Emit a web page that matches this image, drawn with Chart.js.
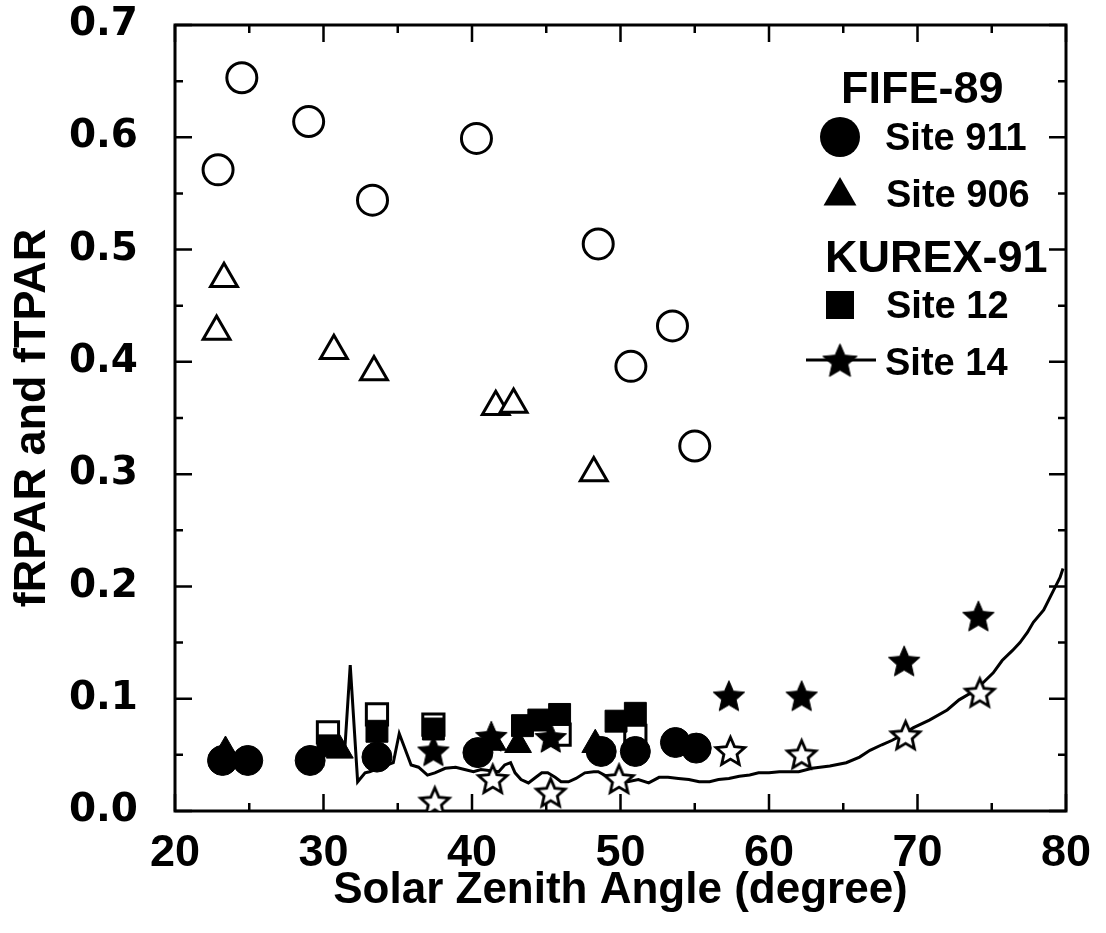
<!DOCTYPE html>
<html><head><meta charset="utf-8">
<script src="https://cdn.jsdelivr.net/npm/chart.js@4.4.1/dist/chart.umd.min.js"></script>
<style>html,body{margin:0;padding:0;background:#fff;}#wrap{width:1106px;height:933px;}</style>
</head><body><div id="wrap"><canvas id="c" width="1106" height="933"></canvas></div>
<script>
// ---- data ----
const xTickLabels = ['20','30','40','50','60','70','80'];
const yTickLabels = ['0.0','0.1','0.2','0.3','0.4','0.5','0.6','0.7'];

// FIFE-89 Site 911 (circles): open = fTPAR, filled = fRPAR
const site911_fTPAR = [[22.9,0.571],[24.5,0.653],[29.0,0.614],[33.3,0.544],[40.3,0.599],[48.5,0.505],[50.7,0.396],[53.5,0.432],[55.0,0.325]];
const site911_fRPAR = [[23.2,0.045],[24.9,0.045],[29.1,0.045],[33.6,0.048],[40.4,0.052],[48.7,0.053],[51.0,0.053],[53.7,0.061],[55.1,0.056]];
// FIFE-89 Site 906 (triangles)
const site906_fTPAR = [[22.8,0.427],[23.3,0.474],[30.7,0.410],[33.4,0.391],[41.6,0.360],[42.8,0.362],[48.2,0.301]];
const site906_fRPAR = [[23.4,0.053],[31.1,0.054],[41.4,0.061],[43.1,0.059],[48.3,0.059]];
// KUREX-91 Site 12 (squares)
const site12_fTPAR = [[30.3,0.070],[33.6,0.086],[37.4,0.077],[45.9,0.068],[51.0,0.067]];
const site12_fRPAR = [[30.3,0.058],[33.6,0.071],[37.4,0.073],[43.4,0.076],[44.5,0.081],[45.9,0.086],[49.7,0.080],[51.0,0.087]];
// KUREX-91 Site 14 (stars) and model curve
const site14_fTPAR = [[37.5,0.008],[41.4,0.028],[45.3,0.016],[49.9,0.028],[57.4,0.053],[62.2,0.050],[69.2,0.067],[74.2,0.105]];
const site14_fRPAR = [[37.4,0.053],[41.3,0.066],[45.3,0.065],[57.3,0.102],[62.2,0.102],[69.1,0.133],[74.1,0.173]];
const site14_model = [[31.4,0.048],[31.8,0.130],[32.3,0.026],[32.8,0.034],[33.1,0.035],[33.7,0.038],[34.3,0.041],[34.7,0.043],[35.1,0.069],[35.9,0.041],[36.4,0.039],[37.0,0.032],[37.5,0.034],[38.2,0.038],[38.9,0.039],[39.5,0.037],[40.1,0.035],[40.6,0.037],[41.8,0.035],[42.2,0.041],[42.6,0.043],[42.9,0.034],[43.3,0.028],[43.8,0.025],[44.3,0.030],[44.7,0.034],[45.1,0.034],[45.6,0.030],[46.0,0.026],[46.5,0.026],[47.0,0.029],[47.6,0.034],[48.2,0.035],[48.5,0.035],[49.2,0.030],[49.9,0.028],[50.5,0.026],[51.2,0.028],[51.9,0.025],[52.6,0.030],[53.2,0.030],[53.9,0.029],[54.6,0.028],[55.3,0.026],[56.0,0.026],[56.6,0.028],[57.3,0.029],[58.0,0.031],[58.7,0.032],[59.3,0.034],[60.0,0.034],[60.7,0.035],[62.0,0.035],[62.9,0.038],[64.1,0.040],[65.2,0.043],[66.1,0.048],[66.8,0.054],[67.6,0.059],[68.3,0.063],[69.0,0.068],[69.7,0.074],[70.8,0.081],[72.0,0.090],[72.8,0.099],[73.7,0.106],[74.4,0.114],[75.1,0.123],[75.7,0.134],[76.4,0.143],[76.9,0.150],[77.4,0.159],[77.8,0.168],[78.5,0.179],[79.1,0.195],[79.6,0.208],[79.8,0.216]];

const toXY = arr => arr.map(p => ({x: p[0], y: p[1]}));

function makeStar(R, ratio, fill, stroke, lw){
  const s = Math.ceil(2*R + lw + 4);
  const c = document.createElement('canvas'); c.width = s; c.height = s;
  const g = c.getContext('2d'); const cx = s/2, cy = s/2 + R*0.05;
  g.beginPath();
  for (let i = 0; i < 10; i++){
    const r = (i % 2) ? R*ratio : R;
    const a = -Math.PI/2 + i*Math.PI/5;
    const px = cx + r*Math.cos(a), py = cy + r*Math.sin(a);
    if (i) g.lineTo(px, py); else g.moveTo(px, py);
  }
  g.closePath(); g.lineJoin = 'miter';
  if (fill){ g.fillStyle = fill; g.fill(); }
  if (stroke){ g.strokeStyle = stroke; g.lineWidth = lw; g.stroke(); }
  return c;
}
const starFilled = makeStar(16.5, 0.46, '#000', '#000', 1);
const starOpen = makeStar(15, 0.46, '#fff', '#000', 2.8);
const starLegend = makeStar(18, 0.46, '#000', '#000', 1);

const FONT = "'Liberation Sans', Arial, sans-serif";

const framePlugin = {
  id: 'frame',
  beforeDatasetsDraw(chart){
    const {ctx, chartArea: a, scales: {x, y}} = chart;
    ctx.save();
    ctx.strokeStyle = '#000';
    ctx.lineWidth = 2.5;
    ctx.beginPath();
    for (let i = 0; i <= Math.round((x.max - x.min)/5); i++){
      const v = x.min + i*5; const px = x.getPixelForValue(v);
      const L = (i % 2 === 0) ? 17 : 8;
      ctx.moveTo(px, a.bottom); ctx.lineTo(px, a.bottom - L);
      ctx.moveTo(px, a.top); ctx.lineTo(px, a.top + L);
    }
    for (let i = 0; i <= Math.round((y.max - y.min)/0.05); i++){
      const v = y.min + i*0.05; const py = y.getPixelForValue(v);
      const L = (i % 2 === 0) ? 17 : 8;
      ctx.moveTo(a.left, py); ctx.lineTo(a.left + L, py);
      ctx.moveTo(a.right, py); ctx.lineTo(a.right - L, py);
    }
    ctx.stroke();
    ctx.lineWidth = 3;
    ctx.strokeRect(a.left, a.top, a.right - a.left, a.bottom - a.top);
    ctx.restore();
  }
};

const legendPlugin = {
  id: 'customLegend',
  afterDraw(chart){
    const ctx = chart.ctx;
    ctx.save();
    ctx.fillStyle = '#000'; ctx.strokeStyle = '#000';
    ctx.textBaseline = 'alphabetic'; ctx.textAlign = 'left';
    ctx.font = "bold 45px " + FONT;
    ctx.fillText('FIFE-89', 841, 103);
    ctx.fillText('KUREX-91', 825, 272);
    ctx.font = "bold 38px " + FONT;
    ctx.fillText('Site 911', 885, 150);
    ctx.fillText('Site 906', 886, 207);
    ctx.fillText('Site 12', 886, 318);
    ctx.fillText('Site 14', 885, 375);
    // markers
    ctx.beginPath(); ctx.arc(840, 137, 20, 0, Math.PI*2); ctx.fill();
    const tr = 19, tcx = 840, tcy = 196;
    ctx.beginPath();
    for (let k = 0; k < 3; k++){
      const ang = -Math.PI/2 + k*2*Math.PI/3;
      const px = tcx + tr*Math.cos(ang), py = tcy + tr*Math.sin(ang);
      if (k) ctx.lineTo(px, py); else ctx.moveTo(px, py);
    }
    ctx.closePath(); ctx.fill();
    ctx.fillRect(826, 291, 28, 28);
    ctx.lineWidth = 3;
    ctx.beginPath(); ctx.moveTo(806, 360); ctx.lineTo(876, 360); ctx.stroke();
    ctx.drawImage(starLegend, 840 - starLegend.width/2, 361 - starLegend.height/2);
    ctx.restore();
  }
};

const openStyle = {backgroundColor: '#fff', borderColor: '#000'};
const fillStyle = {backgroundColor: '#000', borderColor: '#000'};

const chart = new Chart(document.getElementById('c'), {
  type: 'scatter',
  data: {
    datasets: [
      {label: 'Site 14 model', data: toXY(site14_model), showLine: true, pointRadius: 0, borderColor: '#000', borderWidth: 3, fill: false, tension: 0, order: 10},
      {label: 'Site 911 fTPAR', data: toXY(site911_fTPAR), pointStyle: 'circle', pointRadius: 15, pointBorderWidth: 3, ...openStyle, order: 9},
      {label: 'Site 906 fTPAR', data: toXY(site906_fTPAR), pointStyle: 'triangle', pointRadius: 15.5, pointBorderWidth: 3, ...openStyle, order: 9},
      {label: 'Site 12 fTPAR', data: toXY(site12_fTPAR), pointStyle: 'rect', pointRadius: 15, pointBorderWidth: 3, ...openStyle, order: 8},
      {label: 'Site 12 fRPAR', data: toXY(site12_fRPAR), pointStyle: 'rect', pointRadius: 15.5, pointBorderWidth: 1, ...fillStyle, order: 7},
      {label: 'Site 906 fRPAR', data: toXY(site906_fRPAR), pointStyle: 'triangle', pointRadius: 15.5, pointBorderWidth: 1, ...fillStyle, order: 6},
      {label: 'Site 911 fRPAR', data: toXY(site911_fRPAR), pointStyle: 'circle', pointRadius: 15, pointBorderWidth: 1, ...fillStyle, order: 5},
      {label: 'Site 14 fRPAR', data: toXY(site14_fRPAR), pointStyle: starFilled, pointRadius: 15, order: 4},
      {label: 'Site 14 fTPAR', data: toXY(site14_fTPAR), pointStyle: starOpen, pointRadius: 15, order: 3}
    ]
  },
  options: {
    responsive: false,
    animation: false,
    events: [],
    devicePixelRatio: 1,
    layout: {padding: {left: 0, right: 40, top: 25, bottom: 0}},
    plugins: {legend: {display: false}, tooltip: {enabled: false}, title: {display: false}},
    scales: {
      x: {
        type: 'linear', min: 20, max: 80,
        grid: {display: false, drawTicks: false},
        border: {display: false},
        ticks: {stepSize: 10, autoSkip: false, maxRotation: 0, padding: 16, color: '#000',
          font: {family: FONT, weight: 'bold', size: 45},
          callback: (v) => { const i = xTickLabels.indexOf(String(v)); return i >= 0 ? xTickLabels[i] : String(v); }},
        title: {display: true, text: 'Solar Zenith Angle (degree)', color: '#000',
          font: {family: FONT, weight: 'bold', size: 44}, padding: {top: 0, bottom: 16}},
        afterFit: (s) => { s.height = 122; s.paddingLeft = 0; s.paddingRight = 0; s.paddingTop = 0; s.paddingBottom = 0; }
      },
      y: {
        type: 'linear', min: 0, max: 0.7,
        grid: {display: false, drawTicks: false},
        border: {display: false},
        ticks: {stepSize: 0.1, autoSkip: false, padding: 37, color: '#000',
          font: {family: "'DejaVu Sans', sans-serif", weight: 'bold', size: 39},
          callback: (v) => { const i = Math.round(v*10); return yTickLabels[i] !== undefined ? yTickLabels[i] : v.toFixed(1); }},
        title: {display: true, text: 'fRPAR and fTPAR', color: '#000',
          font: {family: FONT, weight: 'bold', size: 45}, padding: {top: 6, bottom: 0}},
        afterFit: (s) => { s.width = 175; s.paddingTop = 0; s.paddingBottom = 0; s.paddingLeft = 0; s.paddingRight = 0; }
      }
    }
  },
  plugins: [framePlugin, legendPlugin]
});
</script>
</body></html>
